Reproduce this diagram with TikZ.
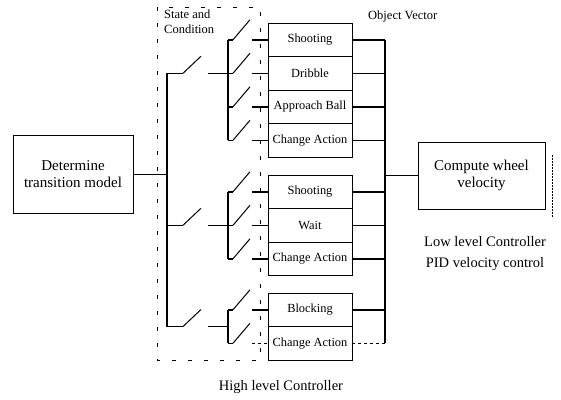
\documentclass[tikz,border=0pt]{standalone}
\usepackage{fontspec}
\setmainfont{Liberation Serif}
\usetikzlibrary{positioning}

\tikzset{
  objbox/.style={draw, line width=0.8pt, minimum width=84pt, minimum height=33.5pt,
                 inner sep=0pt, outer sep=0pt, font=\fontsize{12.4}{14}\selectfont},
  bigbox/.style={draw, line width=0.8pt, align=center, inner sep=0pt,
                 font=\fontsize{15}{17}\selectfont},
  bus/.style={line width=1.5pt},
  blade/.style={line width=1pt},
  lbl/.style={inner sep=0pt, font=\fontsize{12.5}{14.5}\selectfont},
  title/.style={inner sep=0pt, align=center, font=\fontsize{14.5}{21}\selectfont},
}

\begin{document}
\begin{tikzpicture}[x=1pt,y=-1pt]
  \useasboundingbox (0,0) rectangle (561,399);

  % High level controller frame
  \draw[line width=0.8pt, dash pattern=on 4pt off 12pt] (157,7) rectangle (260,360);
  \node[lbl, anchor=north west, align=left] (sc) at (164,10) {State and\\Condition};
  \node[lbl, anchor=west] (ov) at (368,16) {Object Vector};

  % Object vector boxes
  \node[objbox] (g1s) at (310,39.75) {Shooting};
  \node[objbox, below=0pt of g1s] (g1d) {Dribble};
  \node[objbox, below=0pt of g1d] (g1a) {Approach Ball};
  \node[objbox, below=0pt of g1a] (g1c) {Change Action};

  \node[objbox] (g2s) at (310,191.75) {Shooting};
  \node[objbox, below=0pt of g2s] (g2w) {Wait};
  \node[objbox, below=0pt of g2w] (g2c) {Change Action};

  \node[objbox] (g3b) at (310,309.75) {Blocking};
  \node[objbox, below=0pt of g3b] (g3c) {Change Action};

  % Determine and compute boxes
  \node[bigbox, minimum width=120pt, minimum height=78pt] (det) at (73,174)
       {Determine\\transition model};
  \node[bigbox, minimum width=127pt, minimum height=67pt] (comp) at (481.5,175.5)
       {Compute wheel\\velocity};
  \draw[line width=0.8pt, dash pattern=on 1.5pt off 1.5pt] (552,155) -- (552,218);

  % Buses
  \coordinate (b0) at (167,0);
  \coordinate (b1) at (228,0);
  \coordinate (rb) at (385,0);
  \draw[line width=0.8pt] (det.east) -- (b0 |- det.east);
  \draw[bus] (b0 |- g1d) -- (b0 |- g3b.south);
  \draw[bus] (rb |- g1s) -- (rb |- g3c);
  \draw[bus] (rb |- comp.west) -- (comp.west);

  % First level switches
  \foreach \p in {g1d, g2w, g3b.south}{
    \draw[bus] (b0 |- \p) -- ++(16,0);
    \draw[blade] ([xshift=16pt]b0 |- \p) -- ++(18,-17);
    \draw[bus] (b1 |- \p) -- ++(-20,0);
  }

  % Second level switches
  \draw[bus] (b1 |- g1s) -- (b1 |- g1c);
  \draw[bus] (b1 |- g2s) -- (b1 |- g2c);
  \draw[bus] (b1 |- g3b) -- (b1 |- g3c);
  \foreach \n in {g1s,g1d,g1a,g1c,g2s,g2w,g2c,g3b}{
    \draw[bus] (b1 |- \n) -- ++(5,0);
    \draw[blade] ([xshift=5pt]b1 |- \n) -- ++(17,-20);
    \draw[bus] ([xshift=-16pt]\n.west) -- (\n.west);
    \draw[bus] (\n.east) -- (rb |- \n);
  }
  \draw[bus] (b1 |- g3c) -- ++(5,0);
  \draw[blade] ([xshift=5pt]b1 |- g3c) -- ++(17,-20);
  \draw[line width=1pt, dashed] ([xshift=-16pt]g3c.west) -- (g3c.west);
  \draw[line width=1pt, dashed] (g3c.east) -- (rb |- g3c);

  % Titles
  \node[title] (low) at (485,253.5) {Low level Controller\\PID velocity control};
  \node[title] (high) at (281,387) {High level Controller};
\end{tikzpicture}
\end{document}
